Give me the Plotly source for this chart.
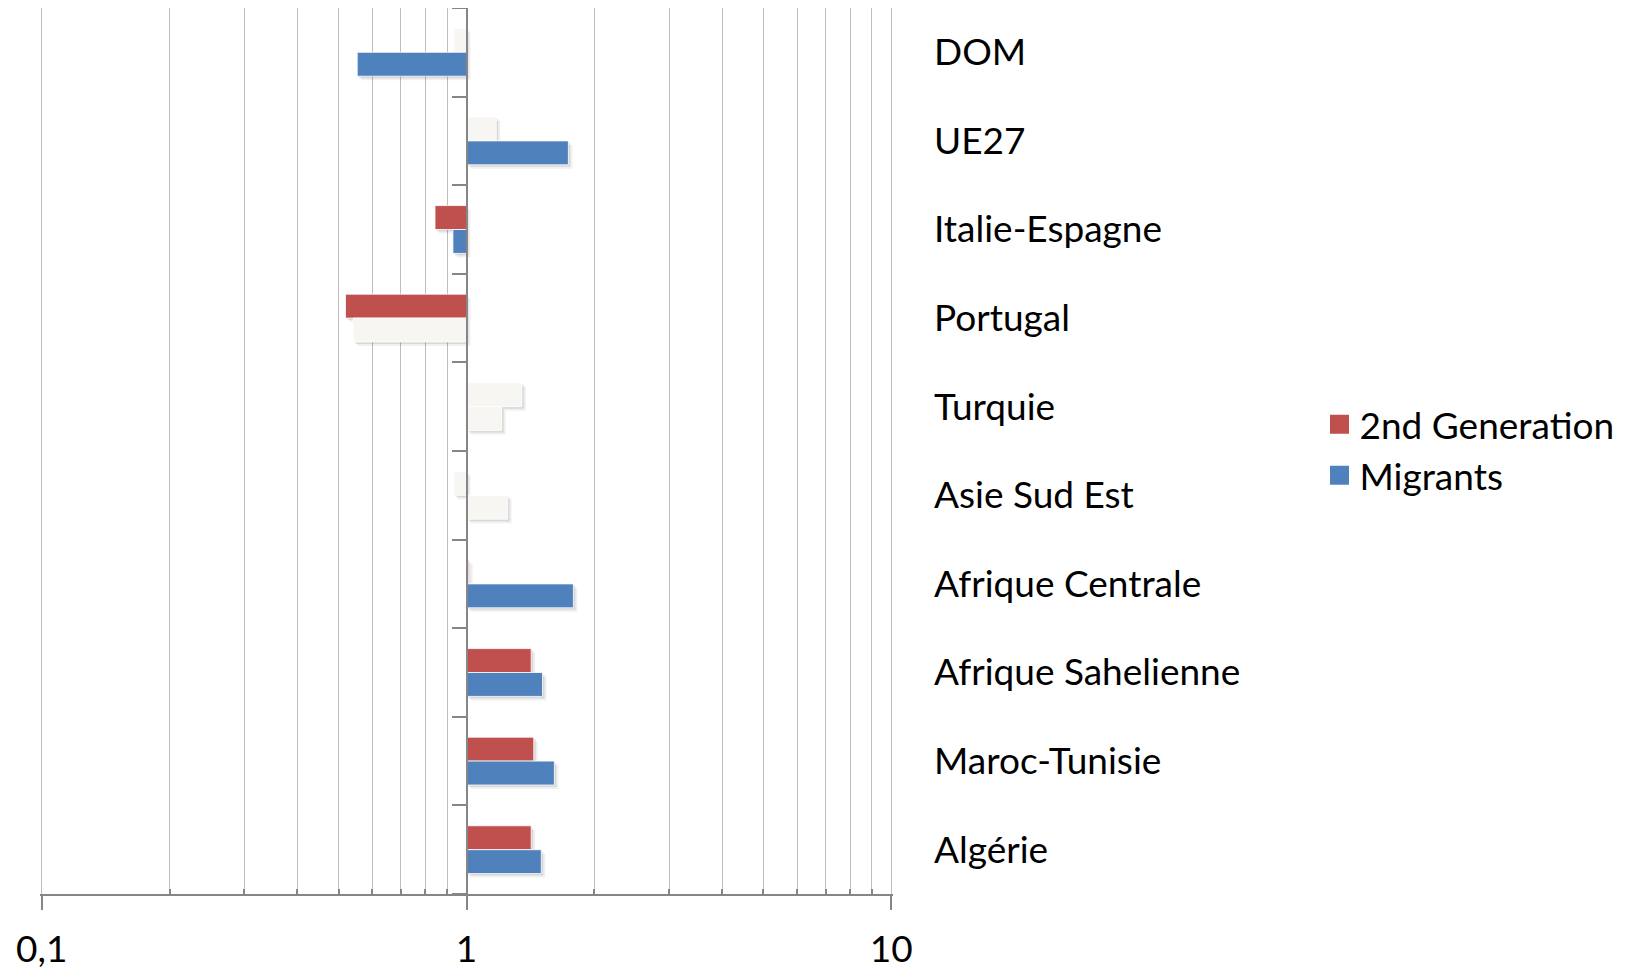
import plotly.graph_objects as go

# ---- data (bottom to top) ----
categories = ["Algérie", "Maroc-Tunisie", "Afrique Sahelienne", "Afrique Centrale",
              "Asie Sud Est", "Turquie", "Portugal", "Italie-Espagne", "UE27", "DOM"]
second_gen = [1.42, 1.44, 1.42, 1.012, 0.934, 1.35, 0.519, 0.843, 1.175, 0.934]
migrants = [1.50, 1.61, 1.51, 1.785, 1.25, 1.21, 0.541, 0.929, 1.737, 0.553]
second_gen_sig = [True, True, True, True, False, False, True, True, False, False]
migrants_sig = [True, True, True, True, False, False, False, True, True, True]
x_tickvals = [0.1, 1, 10]
x_ticktext = ["0,1", "1", "10"]

RED = "#C0504D"
BLUE = "#4F81BD"
LIGHT = "#F7F6F3"
GRID = "#BDBDBD"
AXIS = "#868686"
FONT = "Lato"
FS = 37

n = len(categories)
pos = list(range(n))
BASE = 1.0
W = 0.27  # bar thickness in category units

fig = go.Figure()

# soft shadows (bottom-right) under each bar
shadow_layers = [(2.0, 0.10), (4.0, 0.06)]
for px, alpha in shadow_layers:
    dy = px / 88.6
    f = 10 ** (px / 427.0)
    for vals, off in ((second_gen, 0.0), (migrants, -W)):
        fig.add_trace(go.Bar(
            y=pos, x=[v * f - BASE * f for v in vals], base=BASE * f,
            orientation="h", offset=off - dy, width=W,
            marker=dict(color=f"rgba(0,0,0,{alpha})", line=dict(width=0)),
            showlegend=False, hoverinfo="skip"))

# real bars
fig.add_trace(go.Bar(
    y=pos, x=[v - BASE for v in second_gen], base=BASE, orientation="h",
    offset=0.0, width=W,
    marker=dict(color=[RED if s else LIGHT for s in second_gen_sig],
                line=dict(color="rgba(255,255,255,0.8)", width=1)),
    name="2nd Generation", showlegend=False))
fig.add_trace(go.Bar(
    y=pos, x=[v - BASE for v in migrants], base=BASE, orientation="h",
    offset=-W, width=W,
    marker=dict(color=[BLUE if s else LIGHT for s in migrants_sig],
                line=dict(color="rgba(255,255,255,0.8)", width=1)),
    name="Migrants", showlegend=False))

# legend entries
for name, col in (("2nd Generation", RED), ("Migrants", BLUE)):
    fig.add_trace(go.Scatter(
        x=[None], y=[None], mode="markers", name=name,
        marker=dict(symbol="square", size=16, color=col, line=dict(color=col, width=3))))

# dummy trace to host the axis drawn at x = 1
fig.add_trace(go.Scatter(x=[None], y=[None], yaxis="y2", showlegend=False,
                         hoverinfo="skip", mode="markers"))

minor_vals = [m * 10 ** e for e in (-1, 0) for m in range(2, 10)]

# the page body has an 8px margin, so the figure is 8px smaller on each axis
fig.update_layout(
    width=1642, height=959,
    margin=dict(l=32, r=757, t=0, b=73),
    paper_bgcolor="white", plot_bgcolor="white",
    barmode="overlay",
    font=dict(family=FONT, size=FS, color="black"),
    xaxis=dict(
        type="log", range=[-1.004, 1.004], domain=[0, 1],
        automargin=False,
        tickvals=x_tickvals, ticktext=x_ticktext,
        ticks="outside", ticklen=14, tickwidth=2, tickcolor=AXIS,
        ticklabelstandoff=8,
        showline=True, linecolor=AXIS, linewidth=2,
        showgrid=True, gridcolor=GRID, gridwidth=1.3,
        zeroline=False,
        tickfont=dict(family=FONT, size=FS, color="black"),
        minor=dict(tickvals=minor_vals, showgrid=True, gridcolor=GRID, gridwidth=1.3,
                   ticks="inside", ticklen=5, tickwidth=1.5, tickcolor=AXIS),
    ),
    yaxis=dict(
        range=[-0.5, n - 0.5], side="right", automargin=False,
        tickvals=pos, ticktext=categories, ticks="",
        showgrid=False, zeroline=False, showline=False,
        ticklabelstandoff=40,
        tickfont=dict(family=FONT, size=FS, color="black"),
    ),
    yaxis2=dict(
        overlaying="y", anchor="free", position=0.5, side="left",
        automargin=False,
        range=[-0.5, n - 0.5],
        tickvals=[i - 0.5 for i in range(n + 1)],
        ticks="outside", ticklen=14, tickwidth=2, tickcolor=AXIS,
        showline=True, linecolor=AXIS, linewidth=2,
        showticklabels=False, showgrid=False, zeroline=False,
    ),
    legend=dict(
        x=1.5, xanchor="left", y=0.501, yanchor="middle",
        font=dict(family=FONT, size=FS, color="black"),
        itemsizing="trace", bgcolor="rgba(0,0,0,0)",
    ),
    showlegend=True,
)

fig.write_html("out.html")
